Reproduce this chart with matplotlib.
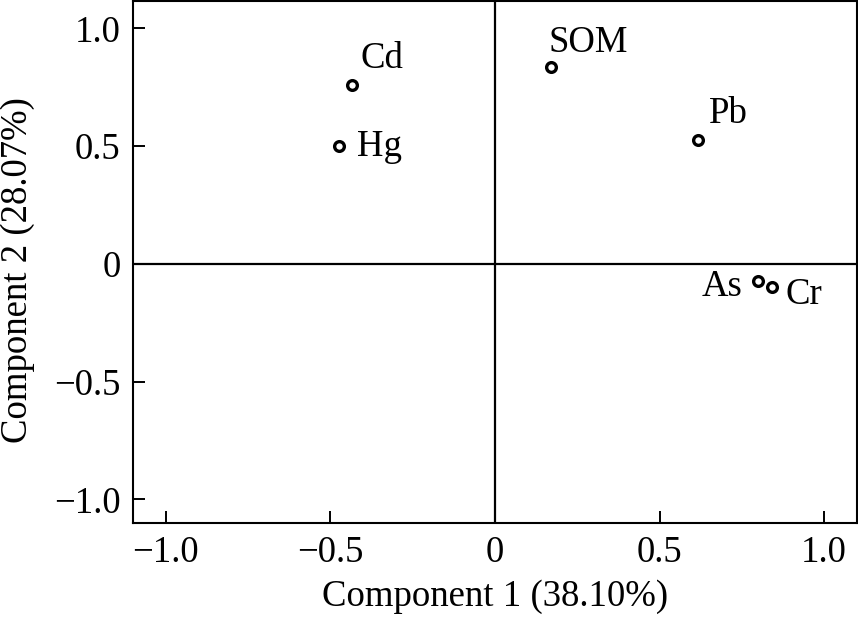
import matplotlib
matplotlib.use("Agg")
import matplotlib.pyplot as plt
from matplotlib.ticker import FuncFormatter

# loadings of each variable on the two components
names = ['Cd', 'Hg', 'SOM', 'Pb', 'As', 'Cr']
comp1 = [-0.436, -0.473, 0.171, 0.616, 0.800, 0.841]
comp2 = [0.760, 0.500, 0.836, 0.527, -0.073, -0.097]

# label offsets in pixels (dx, dy, ha)
offsets = {
    'Cd': (9, 17, 'left'),
    'Hg': (18, -10, 'left'),
    'SOM': (-3, 15, 'left'),
    'Pb': (11, 17, 'left'),
    'As': (-16, -15, 'right'),
    'Cr': (14, -17, 'left'),
}

plt.rcParams['font.family'] = ['Liberation Serif', 'DejaVu Serif']
plt.rcParams['font.size'] = 26.5

fig = plt.figure(figsize=(8.58, 6.24), dpi=100)
ax = fig.add_axes([0.155, 0.162, 0.8438, 0.836])

ax.axhline(0, color='black', lw=1.6, zorder=1)
ax.axvline(0, color='black', lw=1.6, zorder=1)

ax.plot(comp1, comp2, 'o', ms=7, mfc='white', mec='black', mew=2.4, zorder=3)

for n, x, y in zip(names, comp1, comp2):
    dx, dy, ha = offsets[n]
    ax.annotate(n, (x, y), xytext=(dx, dy), textcoords='offset pixels',
                ha=ha, va='baseline', fontsize=26.5)

ax.set_xlim(-1.1, 1.1)
ax.set_ylim(-1.1, 1.115)
ax.set_xticks([-1.0, -0.5, 0, 0.5, 1.0])
ax.set_yticks([-1.0, -0.5, 0, 0.5, 1.0])

fmt = FuncFormatter(lambda v, p: '0' if abs(v) < 1e-9 else ('%.1f' % v).replace('-', '\u2212'))
ax.xaxis.set_major_formatter(fmt)
ax.yaxis.set_major_formatter(fmt)

ax.tick_params(direction='in', length=8.5, width=1.4, top=False, right=False, pad=9)
for s in ax.spines.values():
    s.set_linewidth(1.5)

ax.set_xlabel('Component 1 (38.10%)', fontsize=26.5, labelpad=7)
ax.set_ylabel('Component 2 (28.07%)', fontsize=26.5)
ax.yaxis.set_label_coords(-0.136, 0.485)

fig.savefig('out.png', dpi=100)
